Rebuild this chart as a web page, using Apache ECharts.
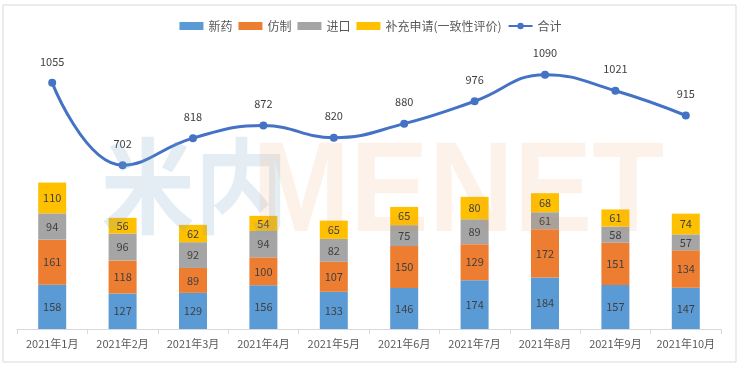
<!DOCTYPE html>
<html><head><meta charset="utf-8">
<script src="https://cdn.jsdelivr.net/npm/echarts@6/dist/echarts.min.js"></script>
<style>html,body{margin:0;padding:0;background:#fff}#c{width:741px;height:366px}</style>
</head><body><div id="c"></div>
<script>
const categories = ['2021年1月','2021年2月','2021年3月','2021年4月','2021年5月','2021年6月','2021年7月','2021年8月','2021年9月','2021年10月'];
const newDrug = [158,127,129,156,133,146,174,184,157,147];
const generic = [161,118,89,100,107,150,129,172,151,134];
const imported = [94,96,92,94,82,75,89,61,58,57];
const supplement = [110,56,62,54,65,65,80,68,61,74];
const total = [1055,702,818,872,820,880,976,1090,1021,915];
const seriesNames = ['新药','仿制','进口','补充申请(一致性评价)','合计'];
const colors = ['#5b9bd5','#ed7d31','#a5a5a5','#ffc000','#4472c4'];

const font = '"Microsoft YaHei","Noto Sans CJK SC",sans-serif';
const chart = echarts.init(document.getElementById('c'));
const barLabel = {show:true, position:'inside', color:'#404040', fontSize:11, fontFamily:font};
function bar(i, data){
  return {name:seriesNames[i], type:'bar', stack:'a', data:data, barWidth:28, yAxisIndex:0,
    itemStyle:{color:colors[i]}, label:barLabel, z:2};
}
chart.setOption({
  animation:false,
  textStyle:{fontFamily:font},
  legend:{top:15, left:'center', itemWidth:24, itemHeight:8, itemGap:6,
    textStyle:{color:'#595959', fontSize:12, fontFamily:font},
    data:[{name:'新药',icon:'rect'},{name:'仿制',icon:'rect'},{name:'进口',icon:'rect'},{name:'补充申请(一致性评价)',icon:'rect'},{name:'合计'}]},
  grid:{left:17, right:20, top:49, bottom:37},
  xAxis:{type:'category', data:categories,
    axisLine:{lineStyle:{color:'#d9d9d9'}},
    axisTick:{show:true, alignWithLabel:false, length:5, lineStyle:{color:'#d9d9d9'}},
    axisLabel:{color:'#595959', fontSize:11, margin:9, interval:0, fontFamily:font}},
  yAxis:[
    {type:'value', min:0, max:1000, show:false, splitLine:{show:false}},
    {type:'value', min:0, max:1200, show:false, splitLine:{show:false}}
  ],
  series:[
    bar(0,newDrug), bar(1,generic), bar(2,imported), bar(3,supplement),
    {name:seriesNames[4], type:'line', yAxisIndex:1, data:total, smooth:0.45,
      symbol:'circle', symbolSize:8, z:5,
      lineStyle:{color:colors[4], width:3}, itemStyle:{color:colors[4]},
      label:{show:true, position:'top', distance:12, color:'#404040', fontSize:11, fontFamily:font}}
  ],
  graphic:[
    {type:'rect', shape:{x:3,y:5,width:733,height:357}, style:{fill:'none', stroke:'#d9d9d9', lineWidth:1}, silent:true, z:0},
    {type:'text', left:101, top:134, z:100, silent:true, scaleX:0.9,
      style:{text:'米内', font:'bold 104px "Noto Sans CJK SC"', fill:'rgba(120,165,200,0.2)'}},
    {type:'text', left:252, top:132, z:100, silent:true, scaleX:0.92,
      style:{text:'MENET', font:'bold 128px "Liberation Sans"', fill:'rgba(240,140,60,0.11)'}}
  ]
});
</script></body></html>
